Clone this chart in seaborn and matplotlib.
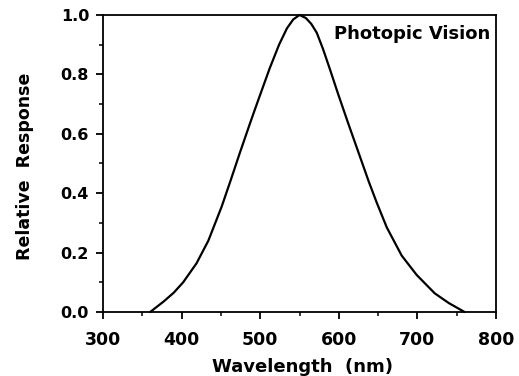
import matplotlib
matplotlib.use("Agg")
import matplotlib.pyplot as plt
from matplotlib.ticker import MultipleLocator
import seaborn as sns
import pandas as pd

# values
wavelength = [360, 377, 390, 402, 419, 434, 451, 462, 474, 487, 495, 512, 524, 534, 542, 550,
              558, 565, 572, 580, 589, 599, 612, 628, 638, 648, 661, 680, 699, 722, 740, 760]
response = [0.0, 0.035, 0.065, 0.10, 0.164, 0.24, 0.355, 0.44, 0.535, 0.635, 0.695, 0.82, 0.90, 0.955, 0.985, 1.0,
            0.99, 0.97, 0.94, 0.885, 0.815, 0.735, 0.635, 0.515, 0.44, 0.37, 0.285, 0.19, 0.125, 0.063, 0.03, 0.0]
x_ticks = [300, 400, 500, 600, 700, 800]
y_ticks = [0.0, 0.2, 0.4, 0.6, 0.8, 1.0]

df = pd.DataFrame({"Wavelength": wavelength, "Response": response})

sns.set_theme(style="ticks")
plt.rcParams["font.family"] = ["DejaVu Sans"]
plt.rcParams["font.weight"] = "bold"
for key in ["text.color", "axes.labelcolor", "xtick.color", "ytick.color", "axes.edgecolor"]:
    plt.rcParams[key] = "black"

fig = plt.figure(figsize=(5.19, 3.76), dpi=100)
ax = fig.add_axes([103 / 519, 64 / 376, 393 / 519, 297 / 376])

sns.lineplot(data=df, x="Wavelength", y="Response", color="black", linewidth=1.6,
             ax=ax, clip_on=False)

ax.set_xlim(300, 800)
ax.set_ylim(0, 1)
ax.set_xticks(x_ticks)
ax.set_yticks(y_ticks)
ax.set_xticklabels([str(t) for t in x_ticks], fontsize=12.5, fontweight="bold")
ax.set_yticklabels([f"{t:.1f}" for t in y_ticks], fontsize=11.5, fontweight="bold")
ax.xaxis.set_minor_locator(MultipleLocator(50))
ax.yaxis.set_minor_locator(MultipleLocator(0.1))
ax.tick_params(axis="both", which="major", direction="out", length=5, width=1.3,
               top=False, right=False)
ax.tick_params(axis="both", which="minor", direction="out", length=3, width=1.1,
               top=False, right=False)
ax.tick_params(axis="x", which="major", pad=9)
ax.tick_params(axis="y", which="major", pad=5)

for s in ax.spines.values():
    s.set_visible(True)
    s.set_linewidth(1.3)

ax.set_xlabel("Wavelength  (nm)", fontsize=13, fontweight="bold")
ax.set_ylabel("Relative  Response", fontsize=12.5, fontweight="bold")
ax.xaxis.set_label_coords(0.508, -0.155)
ax.yaxis.set_label_coords(-0.175, 0.49)

ax.text(0.985, 0.965, "Photopic Vision", transform=ax.transAxes, ha="right", va="top",
        fontsize=13, fontweight="bold")

fig.savefig("out.png", dpi=100)
